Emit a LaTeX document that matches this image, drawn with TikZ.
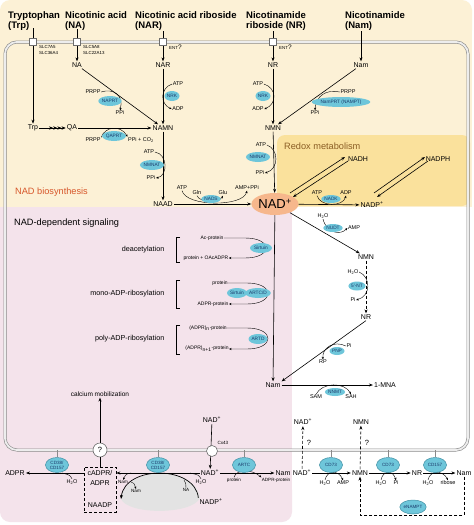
\documentclass[tikz,border=0pt]{standalone}
\usepackage{fontspec}
\setmainfont{Liberation Sans}
\usetikzlibrary{shapes.geometric,arrows.meta}
\newcommand{\fsz}[1]{\fontsize{#1}{#1}\selectfont}
\definecolor{beigebg}{HTML}{FCF1D6}
\definecolor{redoxbg}{HTML}{FAE19C}
\definecolor{pinkbg}{HTML}{F4E3EB}
\definecolor{enzc}{HTML}{6EC6DA}
\definecolor{enzd}{HTML}{3F8FA3}
\definecolor{enzt}{HTML}{1B3A6B}
\definecolor{nadc}{HTML}{F6B78C}
\definecolor{biosyn}{HTML}{D7562A}
\definecolor{redoxt}{HTML}{8B5E24}
\definecolor{membc}{HTML}{8A8A8A}
\begin{document}
\begin{tikzpicture}[x=1pt,y=-1pt,
  mol/.style={font=\fsz{7}, inner sep=1pt},
  sml/.style={font=\fsz{5.5}, inner sep=0.5pt},
  tiny/.style={font=\fsz{5}, inner sep=0.3pt},
  tinyb/.style={font=\fsz{4.6}, inner sep=0.3pt},
  sig/.style={font=\fsz{7.2}, inner sep=0.5pt, anchor=east},
  ttl/.style={font=\fsz{9.2}, inner sep=0pt, anchor=west},
  hdr/.style={font=\bfseries\fontsize{9.5}{10.5}\selectfont, align=left, anchor=north west, inner sep=0pt},
  enzy/.style={ellipse, fill=enzc, text=enzt, font=\fsz{4.8}, inner sep=0.2pt, minimum height=10pt, minimum width=18pt},
  menz/.style={ellipse, fill=enzc, text=enzt, draw=enzd, line width=0.5pt, align=center, font=\fontsize{4.6}{5}\selectfont, inner sep=0pt, minimum width=23pt, minimum height=15pt},
  nadn/.style={ellipse, fill=nadc, font=\fsz{13}, inner sep=0pt, minimum width=40pt, minimum height=22pt},
  arr/.style={-{Stealth[length=4pt,width=3pt]}, line width=0.6pt},
  carr/.style={-{Stealth[length=2.6pt,width=2.2pt]}, line width=0.4pt},
  cline/.style={line width=0.4pt},
  dsh/.style={dash pattern=on 3pt off 2pt},
  transp/.style={draw=membc!80!black, fill=white, line width=0.6pt, minimum size=7pt, inner sep=0pt},
  stem/.style={draw=membc, line width=0.8pt},
  ring/.style={circle, draw=membc!80!black, fill=white, line width=0.6pt, inner sep=0pt},
]
\useasboundingbox (0,0) rectangle (474,525);
% ---------- backgrounds
\fill[white] (0,0) rectangle (474,525);
\fill[beigebg, rounded corners=10] (0,0) rectangle (472,40);
\fill[beigebg] (0,20) rectangle (472,207);
\fill[redoxbg, rounded corners=8] (277,135) rectangle (470,206);
\fill[pinkbg] (0,207) rectangle (292,500);
\fill[pinkbg, rounded corners=10] (0,480) rectangle (292,522);
% ---------- membrane
\draw[membc, double=white!85!membc, line width=0.6pt, double distance=1.8pt, rounded corners=12] (5,42) rectangle (468,450);
\coordinate (membbot) at (0,450);

% ---------- headers
\node[hdr] (hTrp) at (8,11) {Tryptophan\\(Trp)};
\node[hdr] (hNA) at (65,11) {Nicotinic acid\\(NA)};
\node[hdr] (hNAR) at (135,11) {Nicotinic acid riboside\\(NAR)};
\node[hdr] (hNR) at (246,11) {Nicotinamide\\riboside (NR)};
\node[hdr] (hNam) at (345,11) {Nicotinamide\\(Nam)};
\coordinate (sTrp) at (33,28);
\coordinate (sNA) at (77,29);
\coordinate (sNAR) at (163,31);
\coordinate (sNR) at (273,31);
\coordinate (sNam) at (361,31);

% ---------- biosynthesis molecules
\node[mol] (NA) at (77,65) {NA};
\node[mol] (NAR) at (163,65) {NAR};
\node[mol] (NR) at (273,65) {NR};
\node[mol] (Nam) at (361,65) {Nam};
\node[mol] (Trp) at (33,128) {Trp};
\node[mol] (QA) at (72,128) {QA};
\node[mol] (NAMN) at (163,128) {NAMN};
\node[mol] (NMN) at (273,128) {NMN};
\node[mol] (NAAD) at (163,204) {NAAD};
\node[nadn] (NAD) at (275,204) {NAD\textsuperscript{+}};

\draw[arr] (sTrp) -- (Trp);
\draw[arr] (sNA) -- (NA);
\draw[arr] (sNAR) -- (NAR);
\draw[arr] (sNR) -- (NR);
\draw[arr] (sNam) -- (Nam);
\node[transp] (tTrp) at (33,42) {};
\node[transp] (tNA) at (77,42) {};
\node[transp] (tNAR) at (163,42) {};
\node[transp] (tNR) at (273,42) {};
\node[anchor=west, align=left, font=\fontsize{4.4}{5.8}\selectfont, inner sep=0pt] (lTrp) at (39,50) {SLC7A5\\SLC36A4};
\node[anchor=west, align=left, font=\fontsize{4.4}{5.8}\selectfont, inner sep=0pt] (lNA) at (83,50) {SLC5A8\\SLC22A13};
\node[anchor=west, font=\fsz{4.4}, inner sep=0pt] (lNAR) at (169,47) {ENT{\fsz{6.5}?}};
\node[anchor=west, font=\fsz{4.4}, inner sep=0pt] (lNR) at (279,47) {ENT{\fsz{6.5}?}};

\draw[line width=0.6pt, -{Stealth[length=4.2pt,width=3.4pt] Stealth[length=4.2pt,width=3.4pt] Stealth[length=4.2pt,width=3.4pt] Stealth[length=4.2pt,width=3.4pt]}] (Trp) -- (QA);
\draw[arr] (QA) -- (NAMN);
\draw[arr] (NA) -- (NAMN);
\draw[arr] (NAR) -- (NAMN);
\draw[arr] (NR) -- (NMN);
\draw[arr] (Nam) -- (NMN);
\draw[arr] (NAMN) -- (NAAD);
\draw[arr] (NMN) -- (NAD);
\draw[arr] (NAAD) -- (NAD);

% cofactors
\node[sml] (prpp1) at (93,140) {PRPP};
\node[sml] (ppico) at (141,140) {PPi + CO\textsubscript{2}};
\node[sml] (prpp2) at (93,92) {PRPP};
\node[sml] (ppi2) at (120,113) {PPi};
\node[sml] (atp2) at (178,84) {ATP};
\node[sml] (adp2) at (178,109) {ADP};
\node[sml] (atp3) at (149,152) {ATP};
\node[sml] (ppi3) at (151,178) {PPi};
\node[sml] (atp4) at (182,188) {ATP};
\node[sml] (gln) at (197,193) {Gln};
\node[sml] (glu) at (223,193) {Glu};
\node[sml] (amp4) at (247,188) {AMP+PPi};
\node[sml] (atp5) at (258,84) {ATP};
\node[sml] (adp5) at (258,109) {ADP};
\node[sml] (prpp6) at (348,92) {PRPP};
\node[sml] (ppi6) at (315,113) {PPi};
\node[sml] (atp7) at (261,145) {ATP};
\node[sml] (ppi7) at (260,173) {PPi};

\draw[carr] (prpp1.north east) .. controls (105,126) and (121,125) .. (ppico.north west);
\draw[carr] (prpp2.east) .. controls (113,88) and (124,95) .. (ppi2.north);
\draw[carr] (atp2.west) .. controls (160,88) and (160,104) .. (adp2.west);
\draw[carr] (atp3.east) .. controls (168,154) and (168,176) .. (ppi3.east);
\draw[carr] (atp4.south) .. controls (186,207) and (243,207) .. (amp4.south);
\draw[carr] (gln.south) .. controls (200,203) and (219,203) .. (glu.south);
\draw[carr] (atp5.east) .. controls (277,88) and (277,104) .. (adp5.east);
\draw[carr] (prpp6.west) .. controls (326,89) and (316,96) .. (ppi6.north);
\draw[carr] (atp7.east) .. controls (279,149) and (279,169) .. (ppi7.east);

\node[enzy] (QAPRT) at (114,136) {QAPRT};
\node[enzy] (NAPRT) at (110,101) {NAPRT};
\node[enzy, minimum width=15pt] (NRK1) at (172,96) {NRK};
\node[enzy, minimum width=22pt] (NMNAT1) at (152,165) {NMNAT};
\node[enzy, minimum width=17pt, minimum height=8pt] (NADS) at (211,199) {NADS};
\node[enzy, minimum width=15pt] (NRK2) at (263,96) {NRK};
\node[enzy, minimum width=50pt] (NAMPT) at (341,102) {NamPRT (NAMPT)};
\node[enzy, minimum width=22pt] (NMNAT2) at (258,157) {NMNAT};

\node[ttl, text=biosyn] (biolbl) at (15,192) {NAD biosynthesis};

% ---------- redox
\node[ttl, text=redoxt] (redoxlbl) at (284,146) {Redox metabolism};
\node[mol] (NADH) at (358,159) {NADH};
\node[mol] (NADPH) at (438,159) {NADPH};
\node[mol] (NADP) at (372,205) {NADP\textsuperscript{+}};
\coordinate (r1a) at (290,193); \coordinate (r1b) at (345,157);
\coordinate (r2a) at (348,161); \coordinate (r2b) at (293,197);
\coordinate (r3a) at (374,193); \coordinate (r3b) at (425,157);
\coordinate (r4a) at (428,161); \coordinate (r4b) at (377,197);
\draw[arr] (r1a) -- (r1b);
\draw[arr] (r2a) -- (r2b);
\draw[arr] (r3a) -- (r3b);
\draw[arr] (r4a) -- (r4b);
\draw[arr] (NAD) -- (NADP);
\node[sml] (atp8) at (317,193) {ATP};
\node[sml] (adp8) at (346,193) {ADP};
\draw[carr] (atp8.south) .. controls (320,207) and (343,207) .. (adp8.south);
\node[enzy, minimum width=17pt, minimum height=8pt] (NADK) at (331,199) {NADK};

% ---------- degradation (right)
\node[mol] (NMN2) at (366,257) {NMN};
\node[mol] (NR2) at (366,317) {NR};
\node[mol] (Nam2) at (273,385) {Nam};
\node[mol] (MNA) at (385,385) {1-MNA};
\draw[arr] (NAD) -- (NMN2);
\draw[arr, dsh] (NMN2) -- (NR2);
\draw[arr] (NR2.south) -- (Nam2.north east);
\draw[arr] (NAD) -- (Nam2);
\draw[arr] (Nam2) -- (MNA);
\node[sml] (h2o9) at (323,216) {H\textsubscript{2}O};
\node[sml] (amp9) at (354,228) {AMP};
\node[sml] (h2o10) at (353,272) {H\textsubscript{2}O};
\node[sml] (pi10) at (353,300) {Pi};
\node[sml] (pi11) at (349,346) {Pi};
\node[sml] (rp) at (323,362) {RP};
\node[sml] (sam) at (316,397) {SAM};
\node[sml] (sah) at (351,397) {SAH};
\draw[carr] (h2o9.south) .. controls (327,234) and (341,235) .. (amp9.west);
\draw[carr] (h2o10.east) .. controls (371,277) and (371,296) .. (pi10.east);
\draw[carr] (pi11.west) .. controls (334,340) and (322,348) .. (rp.north);
\draw[carr] (sam.north) .. controls (322,382) and (345,382) .. (sah.north);
\node[enzy, minimum width=17pt, minimum height=8pt] (NUDT) at (333,228) {NUDT};
\node[enzy, minimum width=17pt, minimum height=9pt] (NT5) at (357,286) {5'-NT};
\node[enzy, minimum width=15pt, minimum height=8pt] (PNP) at (337,351) {PNP};
\node[enzy, minimum width=17pt, minimum height=8pt] (NNMT) at (335,392) {NNMT};

% ---------- signaling
\node[ttl] (siglbl) at (14,223) {NAD-dependent signaling};
\node[sig] (deac) at (165,250) {deacetylation};
\node[sig] (mono) at (165,294) {mono-ADP-ribosylation};
\node[sig] (poly) at (165,339) {poly-ADP-ribosylation};
\draw[line width=0.5pt] (180,237) -- (176,237) -- (176,262) -- (180,262);
\draw[line width=0.5pt] (180,280) -- (176,280) -- (176,308) -- (180,308);
\draw[line width=0.5pt] (180,325) -- (176,325) -- (176,354) -- (180,354);
\node[tiny] (acp) at (212,238) {Ac-protein};
\node[tiny] (poac) at (206,258) {protein + OAcADPR};
\node[tiny] (prot1) at (220,283) {protein};
\node[tiny] (adprp1) at (213,304) {ADPR-protein};
\node[tiny] (adn) at (208,328) {(ADPR)\textsubscript{n}-protein};
\node[tiny] (adn1) at (207,349) {(ADPR)\textsubscript{n+1}-protein};
\draw[carr] (acp.east) -- (245,238) .. controls (273,238) and (273,258) .. (245,258) -- (poac.east);
\draw[carr] (prot1.east) -- (247,283) .. controls (275,283) and (275,304) .. (247,304) -- (adprp1.east);
\draw[carr] (adn.east) -- (247,328) .. controls (275,328) and (275,349) .. (247,349) -- (adn1.east);
\node[enzy, minimum width=22pt] (sirt1) at (261,248) {Sirtuin};
\node[enzy, minimum width=20pt] (sirt2) at (237,293) {Sirtuin};
\node[enzy, minimum width=19pt] (artcd) at (258,293) {ARTC/D};
\node[enzy, minimum width=19pt] (artd) at (258,339) {ARTD};

% ---------- bottom (membrane events)
\node[font=\fsz{6.5}, inner sep=1pt] (calc) at (100,394) {calcium mobilization};
\node[mol] (NADtop) at (212,420) {NAD\textsuperscript{+}};
\node[mol] (ADPRb) at (15,473) {ADPR};
\node[mol] (NADb) at (210,473) {NAD\textsuperscript{+}};
\node[mol] (NADPb) at (211,502) {NADP\textsuperscript{+}};
\node[mol] (NamB) at (283,473) {Nam};
\node[draw, line width=0.6pt, dsh, minimum width=32pt, minimum height=45pt, inner sep=0pt] (cbox) at (100,489.5) {};
\node[font=\fsz{7}, inner sep=0pt] (cadpr) at (100,473) {cADPR/};
\node[font=\fsz{7}, inner sep=0pt] (adprbox) at (100,483) {ADPR};
\node[font=\fsz{7}, inner sep=0pt] (naadp) at (100,505) {NAADP};

\fill[gray!22] (200,498) .. controls (195,465) and (125,465) .. (121,499) .. controls (128,515) and (192,515) .. (200,498);
\coordinate (arcend) at (121,499);
\draw[-{Stealth[length=4pt,width=3pt]}, line width=0.7pt] (NADPb.north west) .. controls (195,465) and (125,465) .. (arcend);

\draw[arr] (NADb) -- (cbox.east |- NADb);
\draw[arr] (cbox.west |- ADPRb) -- (ADPRb);
\draw[arr] (NADb) -- (NamB);
\draw[arr] (NADtop) -- (NADb);
\node[tinyb] (nam1) at (123,482) {Nam};
\node[tinyb] (nam2) at (136,491) {Nam};
\node[tinyb] (NAs) at (186,490) {NA};
\node[sml] (h2oA) at (72,482) {H\textsubscript{2}O};
\node[sml] (h2oB) at (201,482) {H\textsubscript{2}O};
\node[tinyb] (protb) at (234,480) {protein};
\node[tinyb] (adprpb) at (276,480) {ADPR-protein};
\coordinate (n1s) at (131,473);
\coordinate (n2s) at (131,482);
\coordinate (nas) at (184,480);
\draw[carr] (n1s) .. controls (126,474) .. (nam1.north);
\draw[carr] (n2s) .. controls (134,483) .. (nam2.north);
\draw[cline] (NAs.north) .. controls (186,484) .. (nas);
\draw[cline] (h2oA.north) .. controls (70,475) .. (62,473);
\draw[cline] (h2oB.north) .. controls (199,475) .. (190,473);
\draw[carr] (protb.north) .. controls (236,469) and (252,469) .. (adprpb.north west);

\node[ring, minimum size=14pt, font=\fsz{7.5}] (qc) at (100,450) {?};
\draw[line width=0.6pt] (qc) -- (cbox.north);
\draw[arr] (qc) -- (calc);
\node[ring, minimum size=11pt] (cx) at (212,451) {};
\node[tinyb, anchor=west] (cxl) at (217,443) {Cx43};

\node[menz] (cd1) at (57,465) {CD38/\\CD157};
\node[menz] (cd2) at (158,465) {CD38/\\CD157};
\node[menz] (artc) at (244,465) {ARTC};
\draw[stem] (cd1.north |- membbot) -- (cd1.north);
\draw[stem] (cd2.north |- membbot) -- (cd2.north);
\draw[stem] (artc.north |- membbot) -- (artc.north);

% right bottom
\node[mol] (NADr) at (302,473) {NAD\textsuperscript{+}};
\node[mol] (NMNr) at (360,473) {NMN};
\node[mol] (NRr) at (417,473) {NR};
\node[mol] (NamR) at (464,473) {Nam};
\node[mol] (NADup) at (303,422) {NAD\textsuperscript{+}};
\node[mol] (NMNup) at (361,422) {NMN};
\draw[arr] (NADr) -- (NMNr);
\draw[arr] (NMNr) -- (NRr);
\draw[arr] (NRr) -- (NamR);
\draw[arr, dsh] (NADr) -- (NADup);
\draw[arr, dsh] (NMNr) -- (NMNup);
\node[font=\fsz{7.5}, inner sep=0pt] (q1) at (309,443) {?};
\node[font=\fsz{7.5}, inner sep=0pt] (q2) at (367,443) {?};
\coordinate (lp1) at (464,515);
\coordinate (lp2) at (360,515);
\draw[arr, dsh] (NamR.south) -- (lp1) -- (lp2) -- (NMNr.south);
\node[sml] (h2oC) at (325,483) {H\textsubscript{2}O};
\node[sml] (ampC) at (343,483) {AMP};
\node[sml] (h2oD) at (381,483) {H\textsubscript{2}O};
\node[sml] (piD) at (396,483) {Pi};
\node[sml] (h2oE) at (428,483) {H\textsubscript{2}O};
\node[sml] (ribE) at (448,483) {ribose};
\draw[carr] (h2oC.north) .. controls (327,470) and (339,470) .. (ampC.north);
\draw[carr] (h2oD.north) .. controls (383,470) and (393,470) .. (piD.north);
\draw[carr] (h2oE.north) .. controls (430,470) and (443,470) .. (ribE.north);
\node[menz] (cd73a) at (331,465) {CD73};
\node[menz] (cd73b) at (388,465) {CD73};
\node[menz] (cd157) at (435,465) {CD157};
\draw[stem] (cd73a.north |- membbot) -- (cd73a.north);
\draw[stem] (cd73b.north |- membbot) -- (cd73b.north);
\draw[stem] (cd157.north |- membbot) -- (cd157.north);
\node[menz, minimum width=25pt, minimum height=14pt] (enampt) at (413,507) {eNAMPT};
\end{tikzpicture}
\end{document}
